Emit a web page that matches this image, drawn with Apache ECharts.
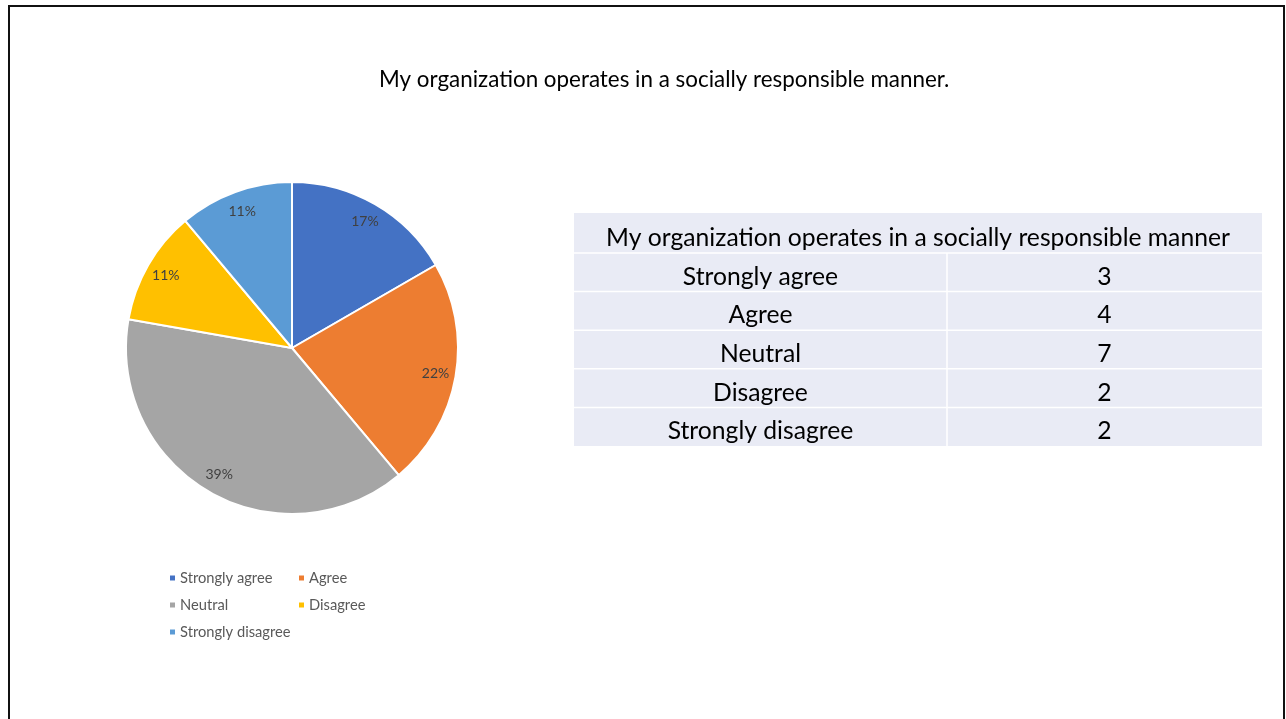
<!DOCTYPE html>
<html>
<head>
<meta charset="utf-8">
<script src="https://cdn.jsdelivr.net/npm/echarts@6/dist/echarts.min.js"></script>
<style>
  html, body { margin: 0; padding: 0; background: #fff; }
  #chart { width: 1286px; height: 719px; }
</style>
</head>
<body>
<div id="chart"></div>
<script>
// Survey responses
const chartTitle = 'My organization operates in a socially responsible manner.';
const tableTitle = 'My organization operates in a socially responsible manner';
const categories = ['Strongly agree', 'Agree', 'Neutral', 'Disagree', 'Strongly disagree'];
const counts = [3, 4, 7, 2, 2];
const colors = ['#4472C4', '#ED7D31', '#A5A5A5', '#FFC000', '#5B9BD5'];

const FONT = 'Lato, "Open Sans", sans-serif';
const total = counts.reduce((a, b) => a + b, 0);
const pieData = categories.map((name, i) => ({ name, value: counts[i] }));

// Pie geometry
const cx = 292, cy = 348, R = 166;

// Table layout
const tX = 574, tY = 213, tW = 688, col1W = 373, headH = 40, rowH = 38.6;
const tableFont = '24.7px ' + FONT;

const graphics = [];
// Slide frame
graphics.push({
  type: 'rect', silent: true,
  shape: { x: 9, y: 6, width: 1275, height: 760 },
  style: { fill: 'none', stroke: '#111', lineWidth: 2 }
});
// Table background + header
graphics.push({
  type: 'rect', silent: true,
  shape: { x: tX, y: tY, width: tW, height: headH + rowH * categories.length },
  style: { fill: '#E9EBF5' }
});
graphics.push({
  type: 'text', silent: true,
  x: tX + tW / 2, y: tY + headH / 2 + 5,
  style: { text: tableTitle, fill: '#000', font: tableFont, align: 'center', verticalAlign: 'middle' }
});
categories.forEach((name, i) => {
  const y0 = tY + headH + rowH * i;
  // row separator
  graphics.push({
    type: 'line', silent: true,
    shape: { x1: tX, y1: y0, x2: tX + tW, y2: y0 },
    style: { stroke: '#fff', lineWidth: 1.5 }
  });
  graphics.push({
    type: 'text', silent: true,
    x: tX + col1W / 2, y: y0 + rowH / 2 + 4.5,
    style: { text: name, fill: '#000', font: tableFont, align: 'center', verticalAlign: 'middle' }
  });
  graphics.push({
    type: 'text', silent: true,
    x: tX + col1W + (tW - col1W) / 2, y: y0 + rowH / 2 + 4.5,
    style: { text: String(counts[i]), fill: '#000', font: tableFont, align: 'center', verticalAlign: 'middle' }
  });
});
// column divider
graphics.push({
  type: 'line', silent: true,
  shape: { x1: tX + col1W, y1: tY + headH, x2: tX + col1W, y2: tY + headH + rowH * categories.length },
  style: { stroke: '#fff', lineWidth: 1.5 }
});

const legendBase = {
  orient: 'vertical', itemWidth: 7, itemHeight: 7, itemGap: 11, icon: 'rect',
  textStyle: { color: '#595959', fontSize: 14.7, lineHeight: 16, fontFamily: FONT, padding: [0, 0, 0, -1] },
  selectedMode: false
};

const option = {
  animation: false,
  backgroundColor: '#fff',
  color: colors,
  title: {
    text: chartTitle, left: 374, top: 64,
    textStyle: { color: '#000', fontSize: 22.4, fontWeight: 'normal', fontFamily: FONT }
  },
  legend: [
    Object.assign({}, legendBase, { left: 163, top: 565, data: [categories[0], categories[2], categories[4]] }),
    Object.assign({}, legendBase, { left: 292, top: 565, data: [categories[1], categories[3]] })
  ],
  graphic: graphics,
  series: [
    {
      type: 'pie', center: [cx, cy], radius: [0, R], startAngle: 90, clockwise: true,
      data: pieData, label: { show: false }, labelLine: { show: false },
      itemStyle: { borderColor: '#fff', borderWidth: 2 }, silent: true
    },
    {
      // label ring: places percentage labels near the outer edge
      type: 'pie', center: [cx, cy], radius: [R * 0.72, R], startAngle: 90, clockwise: true,
      data: pieData, silent: true, legendHoverLink: false,
      itemStyle: { color: 'rgba(0,0,0,0)' },
      label: {
        show: true, position: 'inside', color: '#404040', fontSize: 14, fontFamily: FONT,
        formatter: p => Math.round(p.value / total * 100) + '%'
      },
      labelLine: { show: false }
    }
  ]
};

const chart = echarts.init(document.getElementById('chart'));
chart.setOption(option);
</script>
</body>
</html>
